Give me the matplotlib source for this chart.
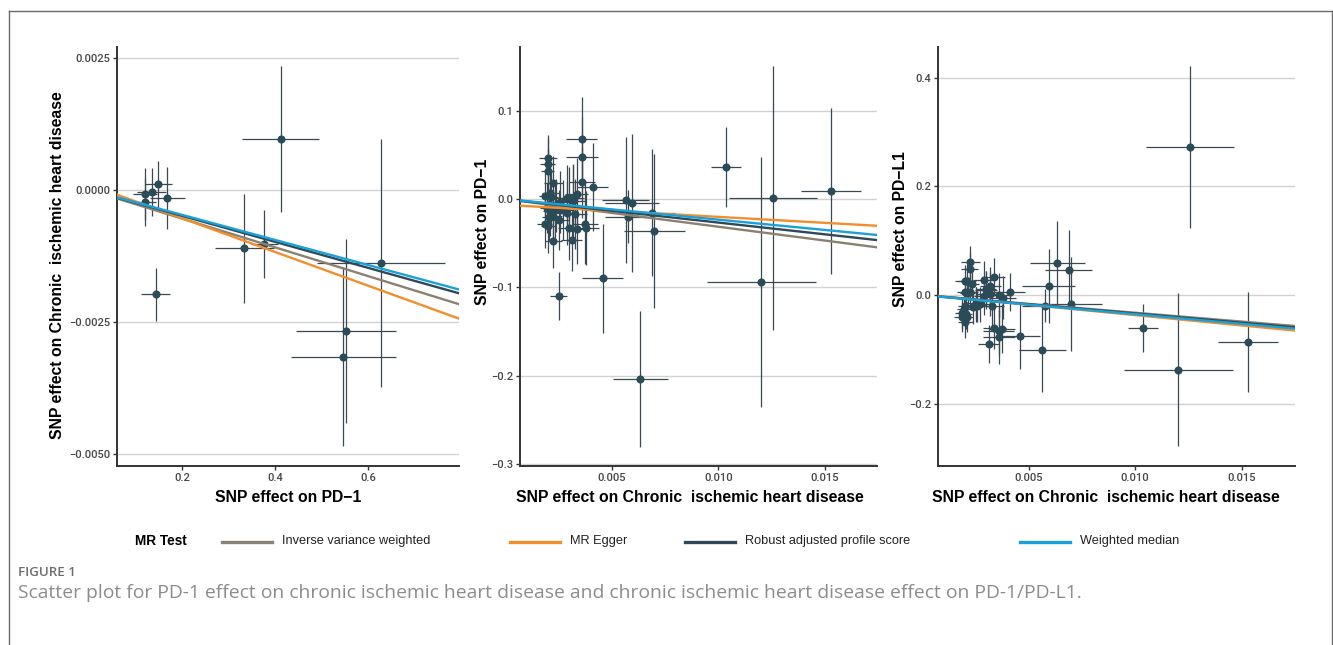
#MR scatter plots - PD-1 / PD-L1 vs chronic ischemic heart disease
import matplotlib
matplotlib.use("Agg")
import matplotlib.pyplot as plt
from matplotlib.lines import Line2D
from matplotlib import font_manager

#panel 1: PD-1 -> CIHD
p1_x = [0.412, 0.149, 0.135, 0.121, 0.122, 0.169, 0.144, 0.334, 0.377, 0.626, 0.552, 0.546]
p1_xse = [0.083, 0.029, 0.032, 0.025, 0.022, 0.037, 0.031, 0.064, 0.029, 0.137, 0.107, 0.112]
p1_y = [0.00096, 0.00010, -0.00004, -0.00008, -0.00023, -0.00016, -0.00198, -0.00111,
        -0.00103, -0.00139, -0.00268, -0.00316]
p1_yse = [0.00138, 0.00045, 0.00045, 0.00049, 0.00045, 0.00058, 0.00050, 0.00103,
          0.00064, 0.00235, 0.00174, 0.00170]

#panels 2/3: CIHD instruments (same SNPs, same exposure effects)
cihd_x = [0.00359, 0.00359, 0.00200, 0.00200, 0.00200, 0.00362, 0.00227, 0.00411, 0.00211,
          0.00336, 0.00187, 0.00289, 0.00300, 0.00320, 0.00260, 0.00240, 0.00234, 0.00210,
          0.00290, 0.00328, 0.00225, 0.00255, 0.00187, 0.00375, 0.00203, 0.00300, 0.00378,
          0.00339, 0.00313, 0.00225, 0.00252, 0.00195, 0.00215, 0.00205, 0.00320, 0.00270,
          0.00458, 0.00565, 0.00578, 0.00595, 0.00635, 0.00689, 0.00700,
          0.01036, 0.01203, 0.01256, 0.01529]
cihd_xse = [0.00073, 0.00075, 0.00043, 0.00035, 0.00030, 0.00060, 0.00045, 0.00073, 0.00040,
            0.00055, 0.00030, 0.00050, 0.00045, 0.00060, 0.00050, 0.00040, 0.00035, 0.00030,
            0.00045, 0.00055, 0.00040, 0.00045, 0.00035, 0.00060, 0.00035, 0.00050, 0.00065,
            0.00055, 0.00050, 0.00040, 0.00040, 0.00030, 0.00035, 0.00030, 0.00050, 0.00045,
            0.00095, 0.00110, 0.00110, 0.00125, 0.00128, 0.00110, 0.00144,
            0.00070, 0.00254, 0.00207, 0.00140]

#PD-1 outcome
pd1_y = [0.0679, 0.0479, 0.0460, 0.0396, 0.0320, 0.0188, 0.0185, 0.0139, 0.0064,
         0.0060, 0.0034, 0.0008, 0.0015, -0.0020, -0.0030, -0.0070, -0.0120, -0.0140,
         -0.0155, -0.0170, -0.0190, -0.0240, -0.0286, -0.0280, -0.0310, -0.0330, -0.0330,
         -0.0340, -0.0464, -0.0475, -0.1093, -0.0100, 0.0020, -0.0200, 0.0010, -0.0120,
         -0.0897, -0.0011, -0.0200, -0.0041, -0.2032, -0.0155, -0.0358,
         0.0362, -0.0939, 0.0011, 0.0090]
pd1_yse = [0.048, 0.045, 0.027, 0.030, 0.025, 0.040, 0.030, 0.050, 0.035,
           0.040, 0.030, 0.038, 0.035, 0.042, 0.035, 0.030, 0.032, 0.028,
           0.036, 0.040, 0.030, 0.034, 0.027, 0.045, 0.030, 0.036, 0.042,
           0.040, 0.035, 0.030, 0.027, 0.028, 0.030, 0.028, 0.038, 0.034,
           0.062, 0.071, 0.030, 0.078, 0.077, 0.072, 0.087,
           0.045, 0.141, 0.149, 0.094]

#PD-L1 outcome
pdl1_y = [-0.066, -0.077, 0.025, 0.005, -0.020, 0.000, 0.060, 0.005, 0.025,
          0.033, -0.033, 0.028, 0.012, 0.002, -0.020, -0.022, 0.020, -0.040,
          -0.002, -0.020, 0.048, -0.018, -0.040, -0.062, -0.050, 0.010, -0.005,
          -0.060, -0.090, 0.006, -0.015, -0.025, 0.004, -0.035, 0.017, -0.017,
          -0.076, -0.101, -0.0196, 0.0166, 0.0595, 0.047, -0.017,
          -0.0613, -0.138, 0.273, -0.0865]
pdl1_yse = [0.045, 0.050, 0.030, 0.028, 0.030, 0.040, 0.030, 0.035, 0.032,
            0.035, 0.030, 0.035, 0.032, 0.040, 0.030, 0.032, 0.030, 0.028,
            0.035, 0.038, 0.030, 0.032, 0.028, 0.045, 0.030, 0.035, 0.040,
            0.040, 0.035, 0.030, 0.030, 0.028, 0.030, 0.028, 0.035, 0.032,
            0.061, 0.078, 0.030, 0.068, 0.077, 0.073, 0.087,
            0.044, 0.141, 0.149, 0.093]

#MR estimates: (slope, intercept) per method
methods = ["Inverse variance weighted", "MR Egger", "Robust adjusted profile score", "Weighted median"]
colors = ["#8a8172", "#f28e2b", "#2f4a56", "#1ba1d9"]
p1_fit = [(-0.00273, 0.0), (-0.00320, 0.00010), (-0.00247, 0.0), (-0.00238, 0.0)]
pd1_fit = [(-3.13, 0.0), (-1.355, -0.0066), (-2.66, 0.0), (-2.33, 0.0)]
pdl1_fit = [(-3.26, 0.0), (-3.80, 0.0010), (-3.40, 0.0), (-3.54, 0.0)]

xlab_cihd = "SNP effect on Chronic  ischemic heart disease"

# fonts - condensed look if narrow family is available
names = {f.name for f in font_manager.fontManager.ttflist}
if "Liberation Sans Narrow" in names:
    cfont, cscale = "Liberation Sans Narrow", 1.2
else:
    cfont, cscale = "Liberation Sans", 1.0
plt.rcParams["font.family"] = ["Liberation Sans", "DejaVu Sans"]

W, H = 1333, 645
fig = plt.figure(figsize=(W/100, H/100), dpi=100)

def box(l, t, r, b):
    return [l/W, 1-b/H, (r-l)/W, (b-t)/H]

panels = [
    dict(pos=box(117, 47, 459, 466), x=p1_x, xse=p1_xse, y=p1_y, yse=p1_yse, fit=p1_fit,
         xlim=(0.061, 0.794), ylim=(-0.00523, 0.0027),
         xt=[0.2, 0.4, 0.6], xtl=["0.2", "0.4", "0.6"],
         yt=[0.0025, 0.0, -0.0025, -0.005], ytl=["0.0025", "0.0000", "\u22120.0025", "\u22120.0050"],
         xl="SNP effect on PD\u22121", yl="SNP effect on Chronic  ischemic heart disease",
         xlc=(0.5, -0.074), ylc=(-0.175, 0.48)),
    dict(pos=box(520, 47, 877, 466), x=cihd_x, xse=cihd_xse, y=pd1_y, yse=pd1_yse, fit=pd1_fit,
         xlim=(0.0007, 0.01745), ylim=(-0.302, 0.172),
         xt=[0.005, 0.010, 0.015], xtl=["0.005", "0.010", "0.015"],
         yt=[0.1, 0.0, -0.1, -0.2, -0.3], ytl=["0.1", "0.0", "\u22120.1", "\u22120.2", "\u22120.3"],
         xl=xlab_cihd, yl="SNP effect on PD\u22121",
         xlc=(0.475, -0.074), ylc=(-0.106, 0.558)),
    dict(pos=box(938, 47, 1295, 466), x=cihd_x, xse=cihd_xse, y=pdl1_y, yse=pdl1_yse, fit=pdl1_fit,
         xlim=(0.00075, 0.0175), ylim=(-0.315, 0.457),
         xt=[0.005, 0.010, 0.015], xtl=["0.005", "0.010", "0.015"],
         yt=[0.4, 0.2, 0.0, -0.2], ytl=["0.4", "0.2", "0.0", "\u22120.2"],
         xl=xlab_cihd, yl="SNP effect on PD\u2212L1",
         xlc=(0.47, -0.074), ylc=(-0.106, 0.565)),
]

for p in panels:
    ax = fig.add_axes(p["pos"])
    ax.errorbar(p["x"], p["y"], xerr=p["xse"], yerr=p["yse"], fmt="none",
                ecolor="#3c4850", elinewidth=0.9, capsize=0, zorder=2)
    ax.scatter(p["x"], p["y"], s=34, color="#2a4b58", zorder=3, linewidths=0)
    for (m, b), c in zip(p["fit"], colors):
        ax.axline((0, b), slope=m, color=c, lw=1.7, zorder=4)
    ax.set_xlim(p["xlim"])
    ax.set_ylim(p["ylim"])
    ax.set_xticks(p["xt"], p["xtl"])
    ax.set_yticks(p["yt"], p["ytl"])
    for lab in ax.get_xticklabels() + ax.get_yticklabels():
        lab.set_family(["Roboto", "DejaVu Sans"])
        lab.set_fontweight("medium")
    ax.yaxis.grid(True, color="#d2d2d2", lw=1.0)
    ax.set_axisbelow(True)
    for s in ["top", "right"]:
        ax.spines[s].set_visible(False)
    for s in ["left", "bottom"]:
        ax.spines[s].set_linewidth(1.4)
        ax.spines[s].set_color("#333333")
    ax.tick_params(length=3, width=1, color="#333333", labelsize=8, labelcolor="#474747", pad=2)
    ax.set_xlabel(p["xl"], family=[cfont, "DejaVu Sans"], fontsize=11.3*cscale,
                  fontweight="bold", va="center")
    ax.set_ylabel(p["yl"], family=[cfont, "DejaVu Sans"], fontsize=11.3*cscale,
                  fontweight="bold", va="center")
    ax.xaxis.set_label_coords(*p["xlc"])
    ax.yaxis.set_label_coords(*p["ylc"])

#legend row
fig.text(135/W, 1-541/H, "MR Test", family=[cfont, "DejaVu Sans"], fontsize=9.8*cscale,
         fontweight="bold", va="center")
leg_x = [222, 510, 685, 1020]
for lx, c, name in zip(leg_x, colors, methods):
    fig.add_artist(Line2D([lx/W, (lx+50)/W], [1-542/H, 1-542/H], color=c, lw=2.4))
    fig.text((lx+60)/W, 1-541/H, name, family=[cfont, "DejaVu Sans"], fontsize=9.2*cscale,
             va="center", color="#222222")

#caption
fig.text(18/W, 1-572/H, "FIGURE 1", family=["Open Sans", "DejaVu Sans"], fontsize=9.6,
         fontweight="semibold", color="#6e6e6e", va="center")
fig.text(18/W, 1-593/H,
         "Scatter plot for PD-1 effect on chronic ischemic heart disease and chronic ischemic heart disease effect on PD-1/PD-L1.",
         family=["Open Sans", "DejaVu Sans"], fontsize=13.9, color="#8c8c8c", va="center")

#outer frame
fr = "#6a6a6a"
fig.add_artist(Line2D([9/W, 1332/W], [1-11/H, 1-11/H], color=fr, lw=1))
fig.add_artist(Line2D([9/W, 9/W], [0, 1-11/H], color=fr, lw=1))
fig.add_artist(Line2D([1332/W, 1332/W], [0, 1-11/H], color=fr, lw=1))

fig.savefig("out.png", dpi=100)
